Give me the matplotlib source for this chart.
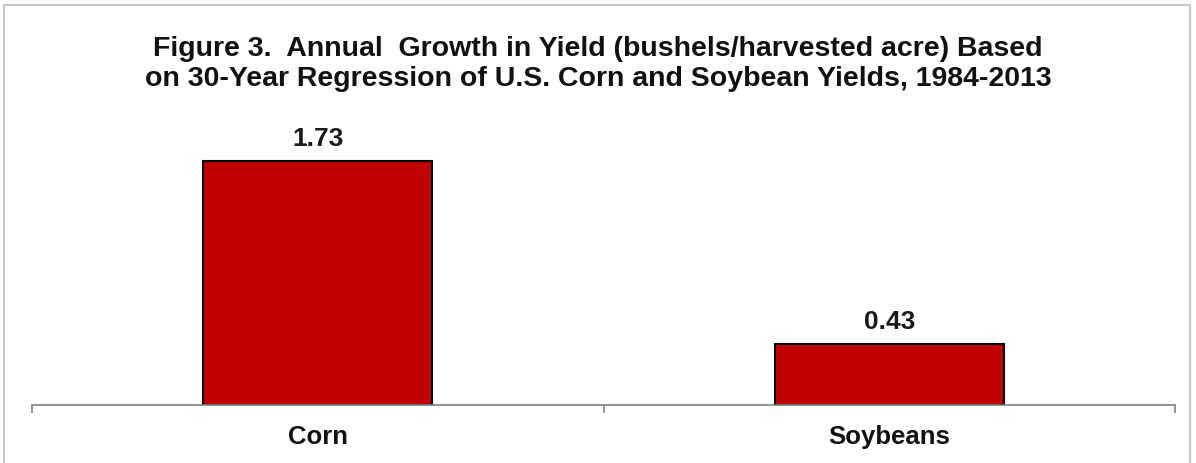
import numpy as np
import matplotlib.pyplot as plt
from matplotlib.patches import Rectangle

# =============================================================================
# DATA
# =============================================================================
crops = ['Corn', 'Soybeans']
growth = [1.73, 0.43]
title = ('Figure 3.  Annual  Growth in Yield (bushels/harvested acre) Based\n'
         'on 30-Year Regression of U.S. Corn and Soybean Yields, 1984-2013')

# =============================================================================
# PLOT
# =============================================================================
plt.rcParams['font.family'] = ['Liberation Sans', 'DejaVu Sans']

W, H = 1196, 464
fig = plt.figure(figsize=(W / 100, H / 100), dpi=100)

# outer frame of the picture
fig.patches.append(Rectangle((4 / W, -0.02), 1186 / W, 1 - 6 / H + 0.02,
                             transform=fig.transFigure, fill=False,
                             edgecolor='#c8c8c8', linewidth=1.5))

ax = fig.add_axes([32 / W, 1 - 406 / H, (1175 - 32) / W, 282 / H])
x = np.arange(len(crops))
bars = ax.bar(x, growth, width=0.40, color='#c00000', edgecolor='black', linewidth=1.5)

ax.set_xlim(-0.5, len(crops) - 0.5)
ax.set_ylim(0, 2.0)
for s in ['top', 'right', 'left']:
    ax.spines[s].set_visible(False)
ax.spines['bottom'].set_color('#808080')
ax.spines['bottom'].set_linewidth(1.2)
ax.set_yticks([])

# category separators as ticks
ax.set_xticks(np.arange(-0.5, len(crops)), minor=True)
ax.tick_params(axis='x', which='minor', length=6, color='#808080', width=1.2)
ax.set_xticks(x)
ax.set_xticklabels(crops, fontsize=18.5, fontweight='bold', color='#111111')
ax.tick_params(axis='x', which='major', length=0, pad=14)

for b, v in zip(bars, growth):
    ax.annotate(f'{v:.2f}', (b.get_x() + b.get_width() / 2, v), xytext=(0, 8),
                textcoords='offset points', ha='center', va='bottom',
                fontsize=19, fontweight='bold', color='#1a1a1a')

fig.text(0.5, 1 - 64 / H, title, ha='center', va='center', fontsize=20.5,
         fontweight='bold', linespacing=1.2, color='#111111')

fig.savefig('out.png', dpi=100)
